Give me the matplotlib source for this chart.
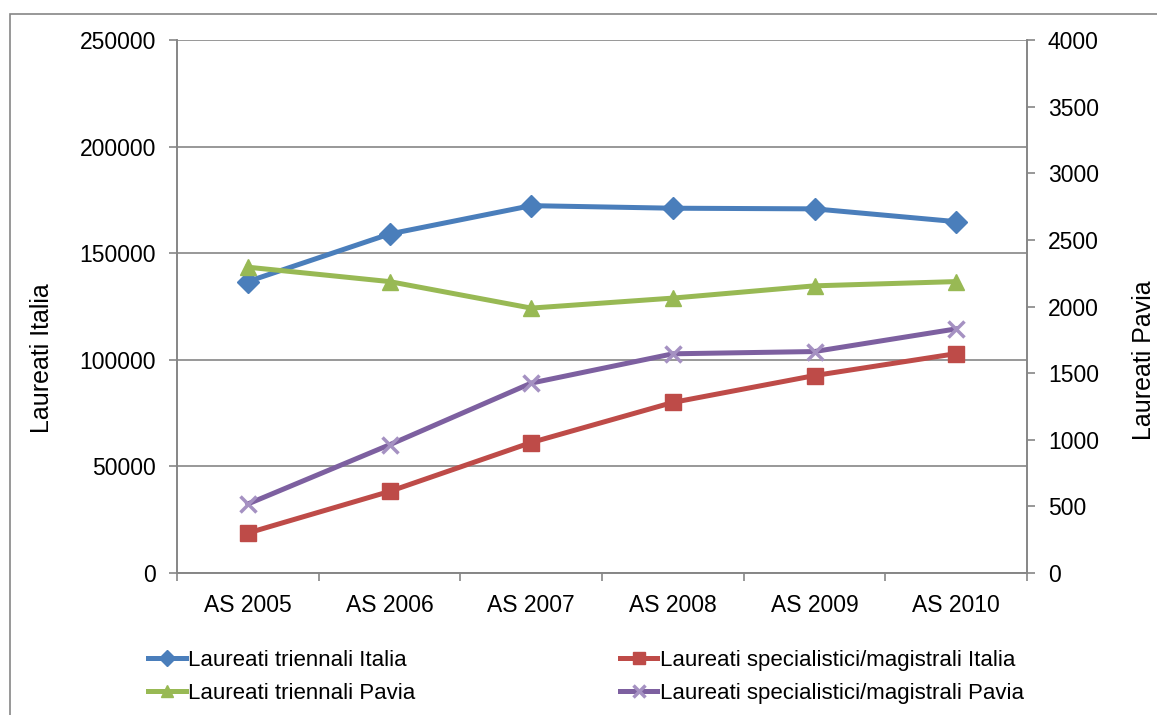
import matplotlib.pyplot as plt
import matplotlib.patches as mpatches
from matplotlib.ticker import FixedLocator
import numpy as np

plt.rcParams['font.family'] = ['Liberation Sans', 'DejaVu Sans']

# Data
years = ['AS 2005', 'AS 2006', 'AS 2007', 'AS 2008', 'AS 2009', 'AS 2010']
triennali_italia = [136700, 159000, 172300, 171100, 170800, 164800]
magistrali_italia = [18750, 38250, 61200, 80000, 92600, 102900]
triennali_pavia = [2295, 2187, 1988, 2063, 2155, 2187]
magistrali_pavia = [518, 962, 1425, 1645, 1662, 1832]

fig = plt.figure(figsize=(11.57, 7.15), dpi=100)
ax = fig.add_axes([177 / 1157, 142 / 715, 850 / 1157, 533 / 715])
ax2 = ax.twinx()

grey = '#868686'
x = np.arange(len(years))

# outer chart border (cut off at right/bottom like the original)
fig.patches.append(mpatches.Rectangle((10 / 1157, -0.05), 1.2, (715 - 14) / 715 + 0.05,
                                      transform=fig.transFigure, fill=False,
                                      edgecolor=grey, linewidth=1.2))

l1, = ax.plot(x, triennali_italia, color='#4A7EBB', lw=3.6, marker='D', ms=11,
              label='Laureati triennali Italia', zorder=3)
l2, = ax.plot(x, magistrali_italia, color='#BE4B48', lw=3.6, marker='s', ms=12,
              label='Laureati specialistici/magistrali Italia', zorder=3)
l3, = ax2.plot(x, triennali_pavia, color='#98B954', lw=3.6, marker='^', ms=12,
               label='Laureati triennali Pavia', zorder=3)
l4, = ax2.plot(x, magistrali_pavia, color='#7D60A0', lw=3.6, marker='x', ms=12,
               mew=2.5, mec='#A591C2', label='Laureati specialistici/magistrali Pavia', zorder=3)

ax.set_xlim(-0.5, len(years) - 0.5)
ax.set_ylim(0, 250000)
ax2.set_ylim(0, 4000)
ax.set_yticks(np.arange(0, 250001, 50000))
ax2.set_yticks(np.arange(0, 4001, 500))

ax.set_xticks(x)
ax.set_xticklabels(years)
ax.xaxis.set_minor_locator(FixedLocator(np.arange(-0.5, len(years), 1)))
ax.tick_params(axis='x', which='major', length=0, pad=15, labelsize=16.5)
ax.tick_params(axis='x', which='minor', length=6, color=grey, width=1.2)
ax.tick_params(axis='y', length=6, color=grey, width=1.2, labelsize=16.5, pad=9)
ax2.tick_params(axis='y', length=6, color=grey, width=1.2, labelsize=16.5, pad=9)

ax.grid(axis='y', color=grey, lw=1.2)
ax.set_axisbelow(True)
for a in (ax, ax2):
    a.spines['top'].set_visible(False)
    for s in ('left', 'right', 'bottom'):
        a.spines[s].set_color(grey)
        a.spines[s].set_linewidth(1.2)

fig.text(42 / 1157, 1 - 358 / 715, 'Laureati Italia', rotation=90,
         ha='center', va='center', fontsize=18)
fig.text(1144 / 1157, 1 - 360 / 715, 'Laureati Pavia', rotation=90,
         ha='center', va='center', fontsize=18)

fig.legend(handles=[l1, l3, l2, l4], ncol=2, loc='upper left',
           bbox_to_anchor=(128 / 1157, 1 - 630 / 715), frameon=False,
           fontsize=16, handlelength=1.7, handletextpad=0.1,
           columnspacing=9.2, labelspacing=0.55, markerscale=0.7)

fig.savefig('out.png', dpi=100)
